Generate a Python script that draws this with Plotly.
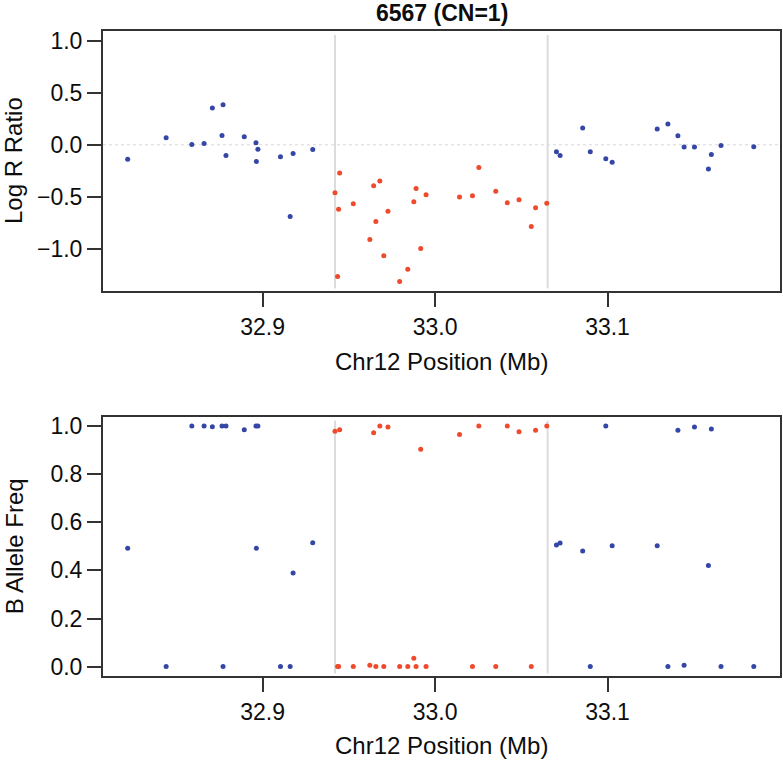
import plotly.graph_objects as go

# ---- data ----
position_mb = [
    32.8218, 32.8441, 32.8590, 32.8661, 32.8709, 32.8765, 32.8771, 32.8788,
    32.8894, 32.8962, 32.8973, 32.8964, 32.9104, 32.9160, 32.9177, 32.9291,
    32.9420, 32.9435, 32.9441, 32.9447, 32.9526, 32.9622, 32.9644, 32.9657,
    32.9680, 32.9703, 32.9727, 32.9795, 32.9842, 32.9877, 32.9890, 32.9917,
    32.9948, 33.0142, 33.0217, 33.0254, 33.0352, 33.0419, 33.0487, 33.0558,
    33.0583, 33.0648,
    33.0704, 33.0725, 33.0856, 33.0900, 33.0990, 33.1027, 33.1288, 33.1350,
    33.1408, 33.1444, 33.1504, 33.1585, 33.1602, 33.1658, 33.1848,
]
log_r_ratio = [
    -0.138, 0.067, 0.003, 0.013, 0.353, 0.090, 0.385, -0.103,
    0.077, 0.019, -0.042, -0.160, -0.115, -0.689, -0.083, -0.045,
    -0.462, -1.266, -0.619, -0.272, -0.567, -0.910, -0.394, -0.737,
    -0.349, -1.067, -0.638, -1.314, -1.196, -0.548, -0.420, -0.997,
    -0.481, -0.503, -0.490, -0.218, -0.446, -0.558, -0.529, -0.785,
    -0.606, -0.561,
    -0.067, -0.103, 0.160, -0.067, -0.135, -0.167, 0.151, 0.199,
    0.087, -0.022, -0.022, -0.234, -0.093, -0.006, -0.019,
]
b_allele_freq = [
    0.492, 0.000, 1.000, 1.000, 0.997, 1.000, 0.000, 1.000,
    0.985, 1.000, 1.000, 0.492, 0.000, 0.000, 0.389, 0.515,
    0.979, 0.000, 0.000, 0.985, 0.000, 0.006, 0.972, 0.000,
    1.000, 0.000, 0.996, 0.000, 0.000, 0.035, 0.000, 0.904,
    0.000, 0.965, 0.000, 1.000, 0.000, 1.000, 0.976, 0.000,
    0.983, 1.000,
    0.506, 0.514, 0.481, 0.000, 1.000, 0.503, 0.503, 0.000,
    0.983, 0.006, 0.996, 0.420, 0.988, 0.000, 0.000,
]
cnv_bounds = [32.9420, 33.0653]
x_ticks = [32.9, 33.0, 33.1]
x_tick_labels = ["32.9", "33.0", "33.1"]
lrr_ticks = [1.0, 0.5, 0.0, -0.5, -1.0]
lrr_tick_labels = ["1.0", "0.5", "0.0", "\u22120.5", "\u22121.0"]
baf_ticks = [0.0, 0.2, 0.4, 0.6, 0.8, 1.0]
baf_tick_labels = ["0.0", "0.2", "0.4", "0.6", "0.8", "1.0"]
title_text = "6567 (CN=1)"
x_title = "Chr12 Position (Mb)"

BLUE = "#3446a6"
RED = "#ee4a2b"
FONT = "Liberation Sans, Arial, Helvetica, sans-serif"
AX = "#333333"
TXT = "#0d0d0d"

colors = [RED if cnv_bounds[0] <= p <= cnv_bounds[1] else BLUE for p in position_mb]

fig = go.Figure()
fig.add_trace(go.Scatter(x=position_mb, y=log_r_ratio, mode="markers",
                         marker=dict(color=colors, size=5), xaxis="x", yaxis="y",
                         showlegend=False, hoverinfo="x+y"))
fig.add_trace(go.Scatter(x=position_mb, y=b_allele_freq, mode="markers",
                         marker=dict(color=colors, size=5), xaxis="x2", yaxis="y2",
                         showlegend=False, hoverinfo="x+y"))

xr = [32.8075, 33.2000]
axis_common = dict(showline=True, mirror=True, linecolor=AX, linewidth=2,
                   ticks="outside", ticklen=14, tickwidth=2, tickcolor=AX,
                   showgrid=False, zeroline=False,
                   tickfont=dict(family=FONT, size=23, color=TXT))

fig.update_layout(
    width=783, height=762,
    margin=dict(l=103, r=1, t=31, b=86),
    paper_bgcolor="white", plot_bgcolor="white",
    xaxis=dict(domain=[0, 1], range=xr, anchor="y", tickvals=x_ticks,
               ticktext=x_tick_labels, **axis_common),
    yaxis=dict(domain=[0.5969, 1], range=[-1.405, 1.093], anchor="x",
               tickvals=lrr_ticks, ticktext=lrr_tick_labels, **axis_common),
    xaxis2=dict(domain=[0, 1], range=xr, anchor="y2", tickvals=x_ticks,
                ticktext=x_tick_labels, **axis_common),
    yaxis2=dict(domain=[0, 0.402], range=[-0.039, 1.039], anchor="x2",
                tickvals=baf_ticks, ticktext=baf_tick_labels, **axis_common),
)

shapes = []
for xa, ya in (("x", "y"), ("x2", "y2")):
    for b in cnv_bounds:
        shapes.append(dict(type="line", xref=xa, yref=ya + " domain", x0=b, x1=b,
                           y0=0.01, y1=0.985, line=dict(color="#dcdcdc", width=2),
                           layer="below"))
shapes.append(dict(type="line", xref="x domain", yref="y", x0=0, x1=1, y0=0, y1=0,
                   line=dict(color="#d8d8d8", width=1, dash="dot"), layer="below"))
fig.update_layout(shapes=shapes)

ann = [
    dict(text="<b>" + title_text + "</b>", xref="x domain", yref="y domain",
         x=0.5, y=1, yshift=18, xanchor="center", yanchor="middle",
         showarrow=False, font=dict(family=FONT, size=23, color=TXT)),
    dict(text=x_title, xref="x domain", yref="y domain", x=0.5, y=0, yshift=-71,
         xanchor="center", yanchor="middle", showarrow=False,
         font=dict(family=FONT, size=24, color=TXT)),
    dict(text=x_title, xref="x2 domain", yref="y2 domain", x=0.5, y=0, yshift=-69,
         xanchor="center", yanchor="middle", showarrow=False,
         font=dict(family=FONT, size=24, color=TXT)),
    dict(text="Log R Ratio", xref="paper", yref="y domain", x=0, xshift=-89,
         y=0.5, xanchor="center", yanchor="middle", textangle=-90, showarrow=False,
         font=dict(family=FONT, size=24, color=TXT)),
    dict(text="B Allele Freq", xref="paper", yref="y2 domain", x=0, xshift=-89,
         y=0.5, xanchor="center", yanchor="middle", textangle=-90, showarrow=False,
         font=dict(family=FONT, size=24, color=TXT)),
]
fig.update_layout(annotations=ann)

# remove the browser's default page margin so the figure fills the window exactly
fig.write_html("out.html",
               config={"displayModeBar": False},
               post_script="document.body.style.margin='0';document.body.style.overflow='hidden';")
